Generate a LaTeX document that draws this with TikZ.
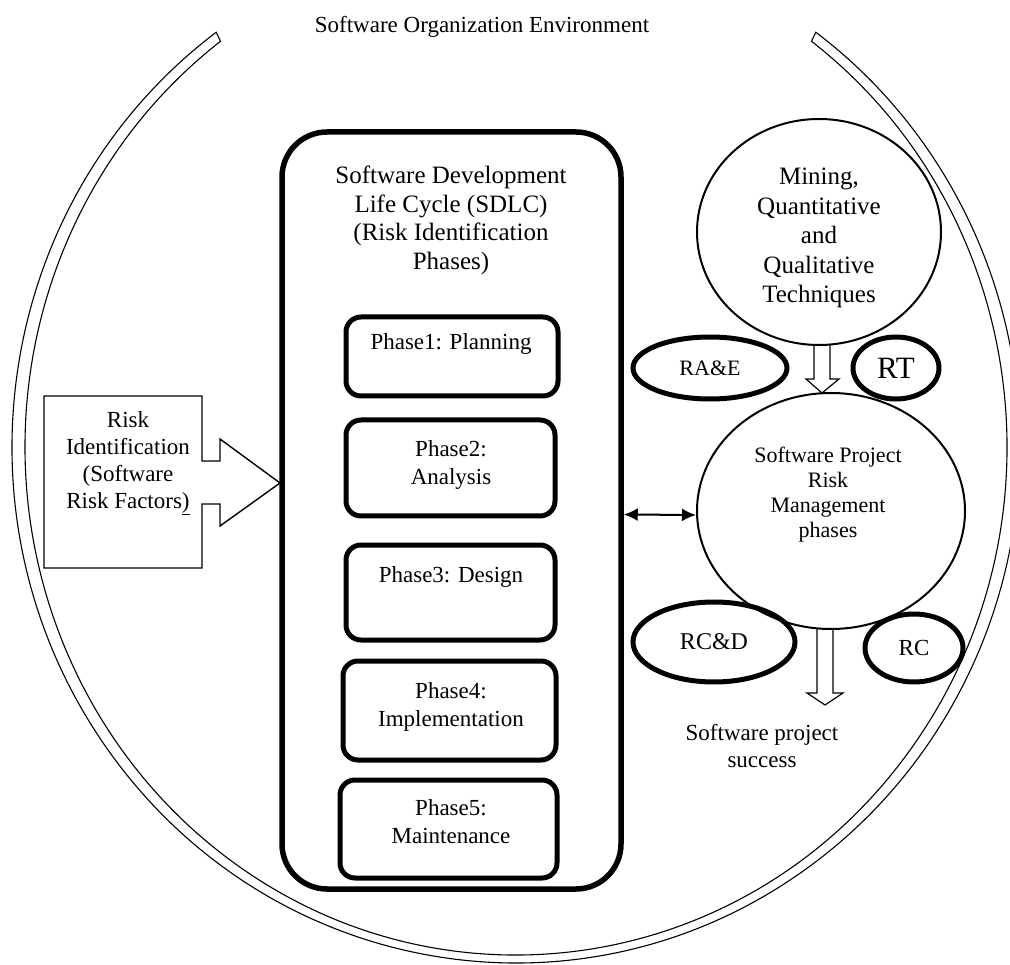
\documentclass[tikz,border=0pt]{standalone}
\usepackage{fontspec}
\setmainfont{Liberation Serif}
\usetikzlibrary{arrows.meta,calc,shapes.geometric}
\newcommand\fsz[2]{\fontsize{#1}{#2}\selectfont}
\begin{document}
\begin{tikzpicture}[x=1pt,y=-1pt,
  band/.style={line width=1.1pt},
  bigbox/.style={draw, line width=5.5pt, rounded corners=45pt, inner sep=0pt},
  phasebox/.style={draw, line width=5pt, rounded corners=15pt, inner sep=0pt},
  riskell/.style={draw, ellipse, line width=5pt, inner sep=0pt},
  bigell/.style={draw, ellipse, line width=2pt, inner sep=0pt},
  lbl/.style={inner sep=0pt, align=center, anchor=base},
  hollow/.style={line width=1.2pt, line join=miter},
  dbl/.style={line width=2pt, {Latex[length=14pt,width=13pt]}-{Latex[length=14pt,width=13pt]}}
]
\useasboundingbox (0,0) rectangle (1010,965);

% outer environment band
\draw[band] ([shift={(516,447)}]-126.5:504 and 516)
  arc[start angle=-126.5, end angle=-413.5, x radius=504, y radius=516]
  -- ([shift={(516,447)}]-53:491 and 508)
  arc[start angle=-413, end angle=-127, x radius=491, y radius=508]
  -- cycle;
\node[lbl, font=\fsz{23}{27}] (env) at (482,33) {Software Organization Environment};

% SDLC box
\node[bigbox, minimum width=339pt, minimum height=757pt] (sdlc) at (451.5,510.5) {};
\node[lbl, font=\fsz{25}{28.5}] (title) at (451,269.5) {Software Development\\Life Cycle (SDLC)\\(Risk Identification\\Phases)};

% phases
\node[phasebox, minimum width=212pt, minimum height=79pt] (p1) at (452,356.5) {};
\node[phasebox, minimum width=209pt, minimum height=96pt] (p2) at (450.5,468) {};
\node[phasebox, minimum width=209pt, minimum height=95pt] (p3) at (450.5,592.5) {};
\node[phasebox, minimum width=213pt, minimum height=99pt] (p4) at (449.5,710.5) {};
\node[phasebox, minimum width=217pt, minimum height=98pt] (p5) at (448.5,829) {};
\node[lbl, font=\fsz{23}{28}] (t1) at (451,350) {Phase1: Planning};
\node[lbl, font=\fsz{23}{28}] (t2) at (451,485) {Phase2:\\Analysis};
\node[lbl, font=\fsz{23}{28}] (t3) at (451,582) {Phase3: Design};
\node[lbl, font=\fsz{23}{28}] (t4) at (451,726) {Phase4:\\Implementation};
\node[lbl, font=\fsz{23}{28}] (t5) at (451,843) {Phase5:\\Maintenance};

% risk identification block arrow
\draw[line width=1.4pt, line join=miter] (44,396) -- (202,396) -- (202,461) -- (220,461) -- (220,439)
  -- (280,483) -- (220,526) -- (220,504) -- (202,504) -- (202,568) -- (44,568) -- cycle;
\node[lbl, font=\fsz{23}{27}] (ri) at (128,508) {Risk\\Identification\\(Software\\Risk Factors\underline{)}};

% right side
\node[bigell, minimum width=244pt, minimum height=226pt] (mining) at (819,232) {};
\node[lbl, font=\fsz{25}{29.5}] (mt) at (819,303) {Mining,\\Quantitative\\and\\Qualitative\\Techniques};

\node[bigell, minimum width=268pt, minimum height=236pt] (sprm) at (831,511) {};
\node[lbl, font=\fsz{22}{25}] (st) at (828,537) {Software Project\\Risk\\Management\\phases};

\node[riskell, minimum width=154pt, minimum height=62pt, font=\fsz{22}{26}] (rae) at (710,368) {RA\&E};
\node[riskell, minimum width=86pt, minimum height=62pt, font=\fsz{31}{36}] (rt) at (896,368) {RT};
\node[riskell, minimum width=162pt, minimum height=80pt, font=\fsz{24}{28}] (rcd) at (714,642) {RC\&D};
\node[riskell, minimum width=98pt, minimum height=68pt, font=\fsz{23}{27}] (rc) at (914,648) {RC};

% hollow arrows
\draw[hollow] (814,345) -- (814,379) -- (806,379) -- (822,393) -- (839,379) -- (830,379) -- (830,345);
\draw[hollow] (817,628) -- (817,693) -- (807,693) -- (825,705) -- (843,693) -- (833,693) -- (833,628);
\node[lbl, font=\fsz{23}{27}] (succ) at (762,767) {Software project\\success};

% double arrow
\draw[dbl] ([yshift=-4pt]sdlc.east) -- ([yshift=-4pt]sprm.west);
\end{tikzpicture}
\end{document}
